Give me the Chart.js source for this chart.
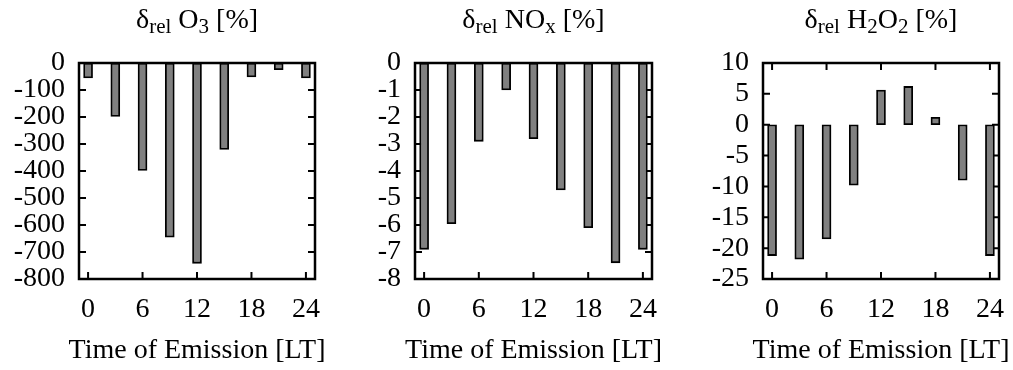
<!DOCTYPE html>
<html>
<head>
<meta charset="utf-8">
<title>Relative change vs. time of emission</title>
<script src="https://cdn.jsdelivr.net/npm/chart.js"></script>
<style>
  body { margin: 0; background: #fff; }
  #wrap { position: relative; width: 1013px; height: 370px; overflow: hidden;
          font-family: "Liberation Serif", "Times New Roman", serif; color: #000; }
  #wrap canvas { position: absolute; top: 0; }
  .ptitle, .xtitle { position: absolute; font-size: 28px; line-height: 32px;
            white-space: nowrap; transform: translateX(-50%); }
  .ptitle { top: 3px; }
  .xtitle { top: 333px; }
  .ptitle sub { font-size: 0.75em; vertical-align: -0.25em; line-height: 0; }
</style>
</head>
<body>
<div id="wrap"></div>
<script>
// Time of emission (local time) for each bar
const hours = [0, 3, 6, 9, 12, 15, 18, 21, 24];
const xTicks = [0, 6, 12, 18, 24];

// Relative changes [%]
const o3Change = [-55, -198, -398, -645, -742, -320, -52, -25, -55];
const noxChange = [-6.9, -5.95, -2.9, -1.0, -2.8, -4.7, -6.1, -7.4, -6.9];
const h2o2Change = [-21.2, -21.8, -18.5, -9.8, 5.6, 6.2, 1.2, -9.0, -21.2];

// y-axis ranges [min, max, step]
const o3Range = [-800, 0, 100];
const noxRange = [-8, 0, 1];
const h2o2Range = [-25, 10, 5];

const titles = [
  'δ<sub>rel</sub> O<sub>3</sub> [%]',
  'δ<sub>rel</sub> NO<sub>x</sub> [%]',
  'δ<sub>rel</sub> H<sub>2</sub>O<sub>2</sub> [%]'
];
const xTitle = 'Time of Emission [LT]';

const FONT = { family: '"Liberation Serif", "Times New Roman", serif', size: 28 };
const TICK = 7;

// inward tick marks on all four sides + closed frame
const frameTicks = {
  id: 'frameTicks',
  beforeDatasetsDraw(chart) {
    const { ctx, chartArea: a, scales: { x, y } } = chart;
    ctx.save();
    ctx.strokeStyle = '#000';
    ctx.lineWidth = 2;
    ctx.beginPath();
    x.ticks.forEach(t => {
      const px = x.getPixelForValue(t.value);
      ctx.moveTo(px, a.bottom); ctx.lineTo(px, a.bottom - TICK);
      ctx.moveTo(px, a.top); ctx.lineTo(px, a.top + TICK);
    });
    y.ticks.forEach(t => {
      const py = y.getPixelForValue(t.value);
      ctx.moveTo(a.left, py); ctx.lineTo(a.left + TICK, py);
      ctx.moveTo(a.right, py); ctx.lineTo(a.right - TICK, py);
    });
    ctx.stroke();
    ctx.restore();
  },
  afterDatasetsDraw(chart) {
    const { ctx, chartArea: a } = chart;
    ctx.save();
    ctx.strokeStyle = '#000';
    ctx.lineWidth = 2.5;
    ctx.strokeRect(a.left, a.top, a.right - a.left, a.bottom - a.top);
    ctx.restore();
  }
};

// canvas placement for the three panels
const layouts = [
  { left: 0, width: 330, axisWidth: 79, padRight: 15 },
  { left: 335, width: 330, axisWidth: 80, padRight: 13 },
  { left: 675, width: 338, axisWidth: 88, padRight: 14 }
];
const series = [o3Change, noxChange, h2o2Change];
const ranges = [o3Range, noxRange, h2o2Range];

const wrap = document.getElementById('wrap');

function addLabel(cls, html, x) {
  const el = document.createElement('div');
  el.className = cls;
  el.innerHTML = html;
  el.style.left = x + 'px';
  wrap.appendChild(el);
}

series.forEach((values, i) => {
  const lay = layouts[i];
  const [yMin, yMax, yStep] = ranges[i];

  const canvas = document.createElement('canvas');
  canvas.width = lay.width;
  canvas.height = 370;
  canvas.style.left = lay.left + 'px';
  wrap.appendChild(canvas);

  const chart = new Chart(canvas, {
    type: 'bar',
    data: {
      datasets: [{
        data: hours.map((h, k) => ({ x: h, y: values[k] })),
        backgroundColor: '#808080',
        borderColor: '#000',
        borderWidth: 1.8,
        borderSkipped: false,
        barThickness: 9
      }]
    },
    options: {
      responsive: false,
      animation: false,
      devicePixelRatio: 1,
      layout: { padding: { top: 63, left: 0, right: lay.padRight, bottom: 0 } },
      plugins: { legend: { display: false }, tooltip: { enabled: false }, title: { display: false } },
      scales: {
        x: {
          type: 'linear',
          min: -1,
          max: 25,
          offset: false,
          grid: { display: false },
          border: { display: false },
          afterBuildTicks: s => { s.ticks = xTicks.map(v => ({ value: v })); },
          afterFit: s => { s.height = 91; },
          ticks: { color: '#000', font: FONT, padding: 6, maxRotation: 0, autoSkip: false }
        },
        y: {
          min: yMin,
          max: yMax,
          grid: { display: false },
          border: { display: false },
          afterFit: s => { s.width = lay.axisWidth; },
          ticks: { stepSize: yStep, color: '#000', font: FONT, padding: 6, autoSkip: false }
        }
      }
    },
    plugins: [frameTicks]
  });

  // titles centred on the plot frame (HTML so the subscripts work;
  // the x title is wider than the frame, which Chart.js would squeeze)
  const cx = lay.left + (chart.chartArea.left + chart.chartArea.right) / 2;
  addLabel('ptitle', titles[i], cx);
  addLabel('xtitle', xTitle, cx);
});
</script>
</body>
</html>
